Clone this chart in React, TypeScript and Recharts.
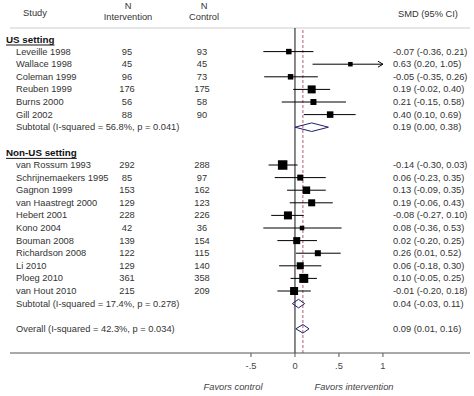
import React from 'react';
import {
  ComposedChart, Scatter, XAxis, YAxis, ErrorBar, ReferenceLine, Customized
} from 'recharts';

// study data
const usStudies = ['Leveille 1998', 'Wallace 1998', 'Coleman 1999', 'Reuben 1999', 'Burns 2000', 'Gill 2002'];
const usNInt = [95, 45, 96, 176, 56, 88];
const usNCtl = [93, 45, 73, 175, 58, 90];
const usEst = [-0.07, 0.63, -0.05, 0.19, 0.21, 0.40];
const usLo = [-0.36, 0.20, -0.35, -0.02, -0.15, 0.10];
const usHi = [0.21, 1.05, 0.26, 0.40, 0.58, 0.69];
const usWeight = [3.7, 2.5, 3.7, 7.8, 4.4, 5.2];

const nonUsStudies = ['van Rossum 1993', 'Schrijnemaekers 1995', 'Gagnon 1999', 'van Haastregt 2000', 'Hebert 2001',
  'Kono 2004', 'Bouman 2008', 'Richardson 2008', 'Li 2010', 'Ploeg 2010', 'van Hout 2010'];
const nonUsNInt = [292, 85, 153, 129, 228, 42, 139, 122, 129, 361, 215];
const nonUsNCtl = [288, 97, 162, 123, 226, 36, 154, 115, 140, 358, 209];
const nonUsEst = [-0.14, 0.06, 0.13, 0.19, -0.08, 0.08, 0.02, 0.26, 0.06, 0.10, -0.01];
const nonUsLo = [-0.30, -0.23, -0.09, -0.06, -0.27, -0.36, -0.20, 0.01, -0.18, -0.05, -0.20];
const nonUsHi = [0.03, 0.35, 0.35, 0.43, 0.10, 0.53, 0.25, 0.52, 0.30, 0.25, 0.18];
const nonUsWeight = [11.0, 4.4, 6.9, 6.0, 7.8, 2.5, 6.0, 4.4, 6.0, 9.9, 7.8];

const summaryLabels = ['Subtotal  (I-squared = 56.8%, p = 0.041)', 'Subtotal  (I-squared = 17.4%, p = 0.278)', 'Overall  (I-squared = 42.3%, p = 0.034)'];
const summaryEst = [0.19, 0.04, 0.09];
const summaryLo = [0.00, -0.03, 0.01];
const summaryHi = [0.38, 0.11, 0.16];

const xTicks = [-0.5, 0, 0.5, 1];
const xTickLabels = ['-.5', '0', '.5', '1'];
const X_DOMAIN: [number, number] = [-3.24, 1.99];
const Y_DOMAIN: [number, number] = [-0.873, 24.92];
const CLIP_MAX = 1;
const OVERALL = summaryEst[2];

const FONT = '"Liberation Sans", Arial, sans-serif';
const FS = 9.3;
const TXT = '#333';

const fmt = (e: number, l: number, h: number) => `${e.toFixed(2)} (${l.toFixed(2)}, ${h.toFixed(2)})`;

// row layout
const usRows = usStudies.map((name, i) => ({ y: 1 + i, name, nI: usNInt[i], nC: usNCtl[i], est: usEst[i], lo: usLo[i], hi: usHi[i], w: usWeight[i] }));
const nonUsRows = nonUsStudies.map((name, i) => ({ y: 10 + i, name, nI: nonUsNInt[i], nC: nonUsNCtl[i], est: nonUsEst[i], lo: nonUsLo[i], hi: nonUsHi[i], w: nonUsWeight[i] }));
const studies = [...usRows, ...nonUsRows];
const summaryRows = [7, 21, 23].map((y, i) => ({ y, name: summaryLabels[i], est: summaryEst[i], lo: summaryLo[i], hi: summaryHi[i] }));

const pointData = studies.map(s => {
  const hiC = Math.min(s.hi, CLIP_MAX);
  return { x: s.est, y: s.y, w: s.w, err: [s.est - s.lo, hiC - s.est] };
});
const arrowData = studies.filter(s => s.hi > CLIP_MAX).map(s => ({ x: CLIP_MAX, y: s.y }));

const textData = [
  { x: 0, y: 0, kind: 'header', name: 'US setting' },
  { x: 0, y: 9, kind: 'header', name: 'Non-US setting' },
  ...studies.map(s => ({ x: 0, y: s.y, kind: 'study', name: s.name, nI: s.nI, nC: s.nC, smd: fmt(s.est, s.lo, s.hi) })),
  ...summaryRows.map(s => ({ x: 0, y: s.y, kind: 'summary', name: s.name, smd: fmt(s.est, s.lo, s.hi) })),
];

const DH = 0.34;
const diamonds = summaryRows.map(s => [
  { x: s.lo, y: s.y }, { x: s.est, y: s.y - DH }, { x: s.hi, y: s.y }, { x: s.est, y: s.y + DH }, { x: s.lo, y: s.y },
]);

const Box = (props: any) => {
  const side = 2.86 * Math.sqrt(props.payload.w);
  return <rect x={props.cx - side / 2} y={props.cy - side / 2} width={side} height={side} fill="#000" />;
};

const Arrow = (props: any) => (
  <path d={`M${props.cx - 5},${props.cy - 3} L${props.cx},${props.cy} L${props.cx - 5},${props.cy + 3}`} fill="none" stroke="#000" strokeWidth={1} />
);

const Empty = () => <g />;

const RowText = (props: any) => {
  const p = props.payload;
  const cy = props.cy;
  const base = { fontFamily: FONT, fontSize: FS, fill: TXT, dominantBaseline: 'central' as const };
  if (p.kind === 'header') {
    return <text x={6} y={cy} {...base} fontSize={9.8} fontWeight="bold" textDecoration="underline" fill="#111">{p.name}</text>;
  }
  return (
    <g>
      <text x={16} y={cy} {...base}>{p.name}</text>
      {p.kind === 'study' && <text x={127} y={cy} {...base} textAnchor="middle">{p.nI}</text>}
      {p.kind === 'study' && <text x={202} y={cy} {...base} textAnchor="middle">{p.nC}</text>}
      <text x={393} y={cy} {...base}>{p.smd}</text>
    </g>
  );
};

const Headers = () => {
  const base = { fontFamily: FONT, fontSize: FS, fill: TXT, dominantBaseline: 'central' as const };
  return (
    <g>
      <text x={35} y={13} {...base} textAnchor="middle">Study</text>
      <text x={128} y={6} {...base} textAnchor="middle">N</text>
      <text x={128} y={17} {...base} textAnchor="middle">Intervention</text>
      <text x={204} y={6} {...base} textAnchor="middle">N</text>
      <text x={204} y={17} {...base} textAnchor="middle">Control</text>
      <text x={398} y={14} {...base}>SMD (95% CI)</text>
      <text x={233} y={387} {...base} fill="#444" fontStyle="italic" textAnchor="middle">Favors control</text>
      <text x={354} y={387} {...base} fill="#444" fontStyle="italic" textAnchor="middle">Favors intervention</text>
    </g>
  );
};

export default function App() {
  return (
    <div style={{ position: 'absolute', left: 0, top: 0, width: 474, height: 396, background: '#fff' }}>
      <ComposedChart width={474} height={396} margin={{ top: 28, right: 4, bottom: 0, left: 10 }}>
        <XAxis
          type="number" dataKey="x" domain={X_DOMAIN} ticks={xTicks}
          tickFormatter={(v: number) => xTickLabels[xTicks.indexOf(v)]}
          height={43} tickSize={4} tickMargin={5}
          axisLine={{ stroke: '#555' }} tickLine={{ stroke: '#555' }}
          tick={{ fontSize: FS, fill: '#444', fontFamily: FONT }}
        />
        <YAxis type="number" dataKey="y" domain={Y_DOMAIN} reversed hide width={0} />
        <ReferenceLine y={Y_DOMAIN[0]} stroke="#ccc" strokeWidth={1} />
        <ReferenceLine x={0} stroke="#111" strokeWidth={1} />
        <ReferenceLine x={OVERALL} stroke="#b05a70" strokeWidth={1} strokeDasharray="3 2" />
        <Scatter data={pointData} shape={Box} isAnimationActive={false}>
          <ErrorBar dataKey="err" direction="x" width={0} stroke="#000" strokeWidth={1} isAnimationActive={false} />
        </Scatter>
        <Scatter data={arrowData} shape={Arrow} isAnimationActive={false} />
        {diamonds.map((d, i) => (
          <Scatter key={i} data={d} shape={Empty} line={{ stroke: '#1e1e6e', strokeWidth: 1 }} lineType="joint" isAnimationActive={false} />
        ))}
        <Scatter data={textData} shape={RowText} isAnimationActive={false} />
        <Customized component={Headers} />
      </ComposedChart>
    </div>
  );
}
